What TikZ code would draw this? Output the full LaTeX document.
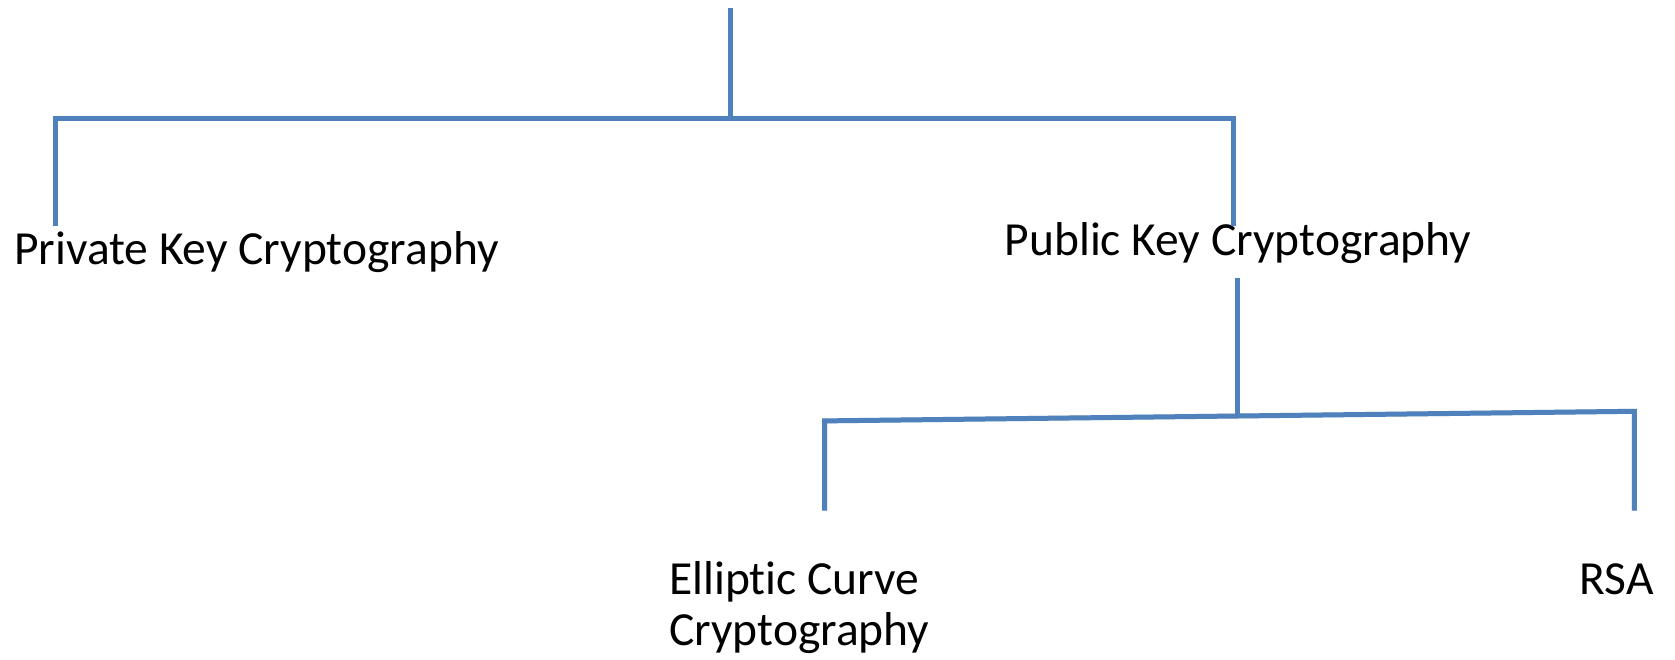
\documentclass[tikz,border=0pt]{standalone}
\usepackage{fontspec}
\setmainfont[Ligatures=NoCommon]{Carlito}
\definecolor{lineblue}{HTML}{4F81BD}
\definecolor{shadowgray}{HTML}{C8C8C8}
\tikzset{
  conn/.style={draw=lineblue, line width=5pt},
  shadowline/.style={draw=shadowgray, line width=5pt, opacity=0.6},
  label/.style={font=\fontsize{47.5}{50.5}\selectfont, text=black, inner sep=0pt},
}
\begin{document}
\begin{tikzpicture}[x=1pt,y=-1pt]
\useasboundingbox (0,0) rectangle (1675,660);
% text nodes
\node[label, anchor=base west] (priv) at (14,265) {Private Key Cryptography};
\node[label, anchor=base] (pub) at (1238,256) {Public Key Cryptography};
\node[label, anchor=base west, align=left] (ecc) at (669,645) {Elliptic Curve\\Cryptography};
\node[label, anchor=base east] (rsa) at (1654,594) {RSA};
% connector points
\coordinate (top) at (730.7,8.5);
\coordinate (j1) at (730.7,118.6);
\coordinate (c1L) at (55.5,118.6);
\coordinate (c1R) at (1233,118.6);
\coordinate (privEnd) at (55.5,226);
\coordinate (pubEnd) at (1233,226);
\coordinate (pubOut) at (1237,278);
\coordinate (j2) at (1237,416);
\coordinate (c2L) at (824.7,420.9);
\coordinate (c2R) at (1634.4,411.3);
\coordinate (eccEnd) at (824.7,510.6);
\coordinate (rsaEnd) at (1634.4,510.6);
% shadows
\begin{scope}[yshift=-2pt, xshift=1pt]
\draw[shadowline] (top) -- (j1);
\draw[shadowline] (privEnd) -- (c1L) -- (c1R) -- (pubEnd);
\draw[shadowline] (pubOut) -- (j2);
\draw[shadowline] (eccEnd) -- (c2L) -- (c2R) -- (rsaEnd);
\end{scope}
% connectors
\draw[conn] (top) -- (j1);
\draw[conn] (privEnd) -- (c1L) -- (c1R) -- (pubEnd);
\draw[conn] (pubOut) -- (j2);
\draw[conn] (eccEnd) -- (c2L) -- (c2R) -- (rsaEnd);
\end{tikzpicture}
\end{document}
